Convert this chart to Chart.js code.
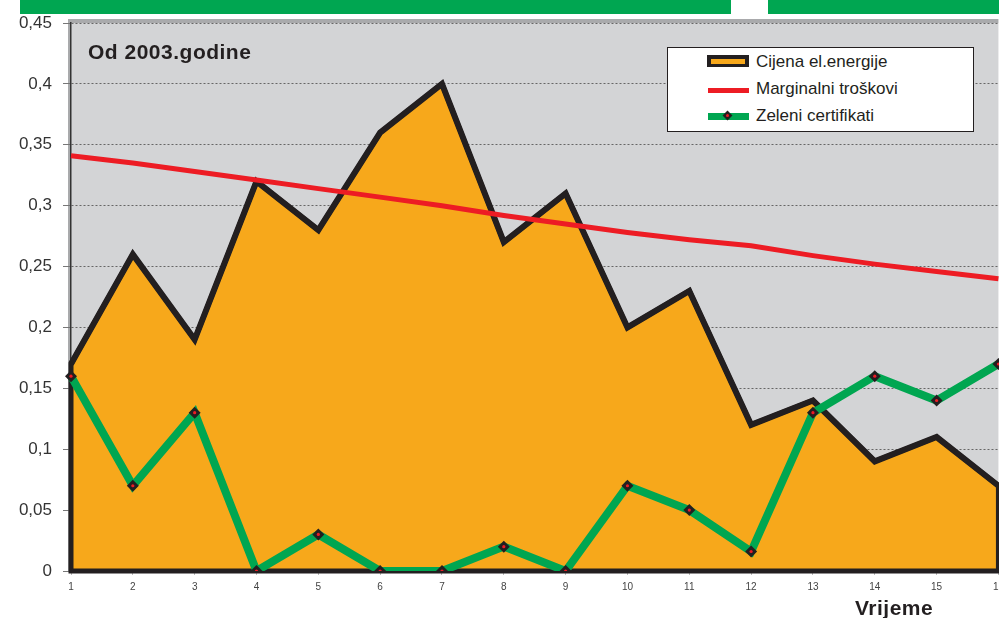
<!DOCTYPE html>
<html>
<head>
<meta charset="utf-8">
<script src="https://cdn.jsdelivr.net/npm/chart.js@4.4.1/dist/chart.umd.min.js"></script>
<style>
  body { margin: 0; background: #fff; }
  #wrap { position: relative; width: 999px; height: 618px; overflow: hidden; font-family: 'Liberation Sans', Arial, sans-serif; color: #231f20; }
  #chartBox { position: absolute; left: 0; top: 0; width: 1010px; height: 618px; }
  .banner { position: absolute; top: 0; height: 14px; background: #00a651; }
  #title { position: absolute; left: 88px; top: 40px; font-weight: bold; font-size: 21px; letter-spacing: 0.5px; }
  #xTitle { position: absolute; left: 855px; top: 596px; font-weight: bold; font-size: 21px; letter-spacing: 0.5px; }
  #legend { position: absolute; left: 667px; top: 47px; width: 305px; height: 83px; background: #fff; border: 1px solid #231f20; }
  .lgText { position: absolute; left: 88px; font-size: 17px; line-height: 18px; }
  .sw { position: absolute; }
</style>
</head>
<body>
<div id="wrap">
  <div class="banner" style="left:20px; width:711px;"></div>
  <div class="banner" style="left:768px; width:231px;"></div>
  <div id="chartBox"><canvas id="chart" width="1010" height="618"></canvas></div>
  <div id="title">Od 2003.godine</div>
  <div id="xTitle">Vrijeme</div>
  <div id="legend">
    <div class="sw" style="left:39px; top:7px; width:42px; height:12px; background:#231f20;"></div>
    <div class="sw" style="left:43px; top:11px; width:34px; height:5px; background:#f7a81b;"></div>
    <div class="lgText" style="top:5px;">Cijena el.energije</div>
    <div class="sw" style="left:40px; top:40px; width:41px; height:5px; background:#ed1c24;"></div>
    <div class="lgText" style="top:32px;">Marginalni troškovi</div>
    <div class="sw" style="left:40px; top:65px; width:41px; height:7px; background:#00a651;"></div>
    <div class="sw" style="left:56px; top:64px; width:7px; height:7px; background:#231f20; transform:rotate(45deg);"></div>
    <div class="sw" style="left:58px; top:66px; width:3px; height:3px; background:#ed1c24; border-radius:50%;"></div>
    <div class="lgText" style="top:59px;">Zeleni certifikati</div>
  </div>
</div>
<script>
// Chart data
const labels = ['1', '2', '3', '4', '5', '6', '7', '8', '9', '10', '11', '12', '13', '14', '15', '16'];
const cijena = [0.17, 0.26, 0.19, 0.32, 0.28, 0.36, 0.40, 0.27, 0.31, 0.20, 0.23, 0.12, 0.14, 0.09, 0.11, 0.07];
const marginalni = [0.341, 0.335, 0.328, 0.321, 0.314, 0.307, 0.300, 0.292, 0.285, 0.278, 0.272, 0.267, 0.259, 0.252, 0.246, 0.240];
const zeleni = [0.16, 0.07, 0.13, 0, 0.03, 0, 0, 0.02, 0, 0.07, 0.05, 0.016, 0.13, 0.16, 0.14, 0.17];
const yTicks = [0, 0.05, 0.1, 0.15, 0.2, 0.25, 0.3, 0.35, 0.4, 0.45];

// Plot background with grey frame on top and left
const plotBg = {
    id: 'plotBg',
    beforeDraw(chart) {
        const { ctx, chartArea: a } = chart;
        ctx.save();
        ctx.fillStyle = '#d3d4d6';
        ctx.fillRect(a.left, a.top, a.right - a.left, a.bottom - a.top);
        ctx.fillStyle = '#a9aaac';
        ctx.fillRect(a.left - 2, a.top - 4, a.right - a.left + 2, 4);
        ctx.fillRect(a.left - 3, a.top - 4, 3, a.bottom - a.top + 4);
        ctx.restore();
    }
};

// Outline the whole area polygon (top, sides and bottom)
const areaOutline = {
    id: 'areaOutline',
    afterDatasetDraw(chart, args) {
        if (args.index !== 0) return;
        const pts = args.meta.data;
        const y0 = chart.scales.y.getPixelForValue(0);
        const ctx = chart.ctx;
        ctx.save();
        ctx.strokeStyle = '#231f20';
        ctx.lineWidth = 5;
        ctx.lineJoin = 'miter';
        ctx.beginPath();
        ctx.moveTo(pts[0].x, y0);
        pts.forEach(p => ctx.lineTo(p.x, p.y));
        ctx.lineTo(pts[pts.length - 1].x, y0);
        ctx.closePath();
        ctx.stroke();
        ctx.restore();
    }
};

new Chart(document.getElementById('chart'), {
    type: 'line',
    data: {
        labels: labels,
        datasets: [
            {
                label: 'Cijena el.energije',
                data: cijena,
                borderColor: '#231f20',
                borderWidth: 6,
                backgroundColor: '#f7a81b',
                fill: 'origin',
                pointRadius: 0,
                tension: 0,
                order: 3
            },
            {
                label: 'Marginalni troškovi',
                data: marginalni,
                borderColor: '#ed1c24',
                borderWidth: 5,
                pointRadius: 0,
                fill: false,
                tension: 0,
                order: 2
            },
            {
                label: 'Zeleni certifikati',
                data: zeleni,
                borderColor: '#00a651',
                borderWidth: 8,
                pointStyle: 'rectRot',
                pointRadius: 6,
                pointBackgroundColor: '#231f20',
                pointBorderWidth: 0,
                fill: false,
                tension: 0,
                order: 1
            },
            {
                label: 'dots',
                data: zeleni,
                showLine: false,
                pointStyle: 'circle',
                pointRadius: 1.6,
                pointBackgroundColor: '#ed1c24',
                pointBorderWidth: 0,
                order: 0
            }
        ]
    },
    options: {
        responsive: false,
        devicePixelRatio: 1,
        animation: false,
        layout: { padding: { top: 23, left: 0, right: 0, bottom: 0 } },
        scales: {
            x: {
                offset: false,
                grid: { display: true, drawOnChartArea: false, tickLength: 4, color: '#bbbbbb' },
                border: { display: false },
                ticks: { color: '#444', font: { family: 'Liberation Sans', size: 10 }, padding: 6, maxRotation: 0, autoSkip: false },
                afterFit: s => { s.height = 47; }
            },
            y: {
                min: 0,
                max: 0.45,
                afterBuildTicks: s => { s.ticks = yTicks.map(v => ({ value: v })); },
                grid: { color: '#666', lineWidth: 1, tickLength: 8, tickColor: '#777' },
                border: { display: true, color: '#333', width: 1.5, dash: [2, 2] },
                ticks: {
                    color: '#333',
                    font: { family: 'Liberation Sans', size: 17 },
                    padding: 11,
                    callback: v => String(Math.round(v * 100) / 100).replace('.', ',')
                },
                afterFit: s => { s.width = 71; }
            }
        },
        plugins: {
            legend: { display: false },
            tooltip: { enabled: false }
        }
    },
    plugins: [plotBg, areaOutline]
});
</script>
</body>
</html>
